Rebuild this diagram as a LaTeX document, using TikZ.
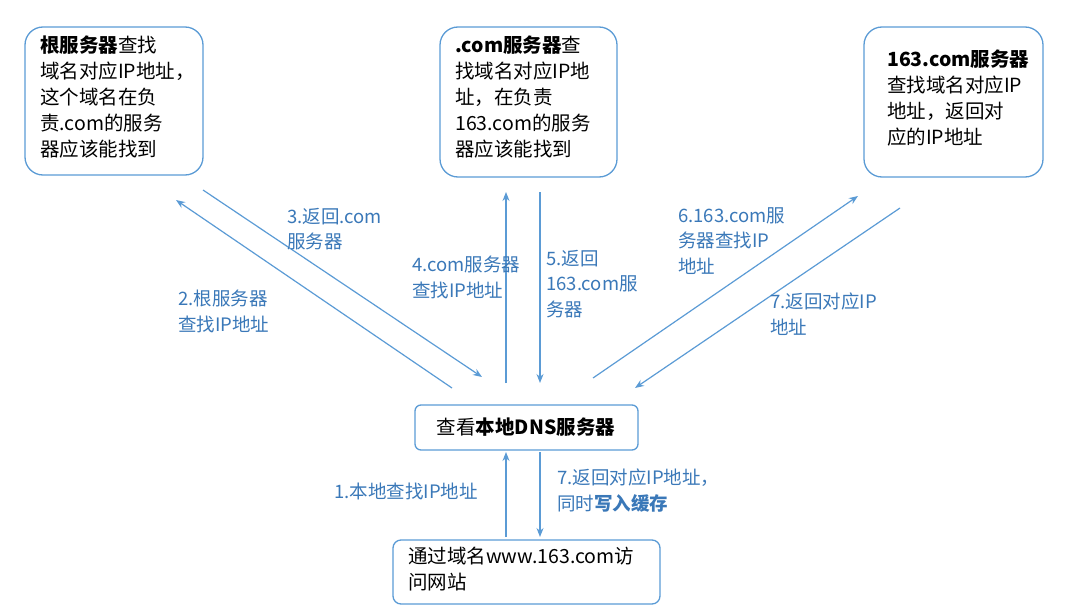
\documentclass[tikz,border=0pt]{standalone}
\usepackage{fontspec}
\setmainfont{Noto Sans CJK SC}
\usetikzlibrary{arrows.meta}
\definecolor{ln}{HTML}{5B9BD5}
\definecolor{lb}{HTML}{3A78B8}
\tikzset{
 box/.style={draw=ln,line width=1.3pt,rounded corners=18pt},
 tx/.style={anchor=north west,align=left,font=\fontsize{19.5}{26}\selectfont,inner sep=0pt},
 lab/.style={anchor=north west,align=left,text=lb,font=\fontsize{18.5}{25.5}\selectfont,inner sep=0pt},
 arr/.style={draw=ln,line width=1.2pt,-{Stealth[length=9pt,width=7pt]}}
}
\begin{document}
\begin{tikzpicture}[x=1pt,y=-1pt]
\useasboundingbox (0,0) rectangle (1073,610);
\draw[box] (25,27) rectangle (203,175);
\draw[box] (440,27) rectangle (617,177);
\draw[box] (864,27) rectangle (1043,177);
\draw[box,rounded corners=6pt] (415,405) rectangle (638,450);
\draw[box,rounded corners=8pt] (393,540) rectangle (660,604);
\node[tx] (t1) at (40,36) {\textbf{根服务器}查找\\域名对应IP地址，\\这个域名在负\\责.com的服务\\器应该能找到};
\node[tx] (t2) at (455,36) {\textbf{.com服务器}查\\找域名对应IP地\\址，在负责\\163.com的服务\\器应该能找到};
\node[tx] (t3) at (887,50) {\textbf{163.com服务器}\\查找域名对应IP\\地址，返回对\\应的IP地址};
\node[tx,anchor=center] (t4) at (526,427) {查看\textbf{本地DNS服务器}};
\node[tx] (t5) at (408,547) {通过域名www.163.com访\\问网站};
\coordinate (a2s) at (452,388); \coordinate (a2e) at (176,200);
\coordinate (a3s) at (203,190); \coordinate (a3e) at (482,377);
\coordinate (a4s) at (506,383); \coordinate (a4e) at (506,192);
\coordinate (a5s) at (540,192); \coordinate (a5e) at (540,383);
\coordinate (a6s) at (593,378); \coordinate (a6e) at (858,196);
\coordinate (a7s) at (900,208); \coordinate (a7e) at (635,388);
\coordinate (a1s) at (506,537); \coordinate (a1e) at (506,452);
\coordinate (a8s) at (540,452); \coordinate (a8e) at (540,537);
\foreach \n in {2,...,8,1} \draw[arr] (a\n s) -- (a\n e);
\node[lab] (l3) at (287,208) {3.返回.com\\服务器};
\node[lab] (l2) at (178,290) {2.根服务器\\查找IP地址};
\node[lab] (l4) at (412,256) {4.com服务器\\查找IP地址};
\node[lab] (l5) at (546,250) {5.返回\\163.com服\\务器};
\node[lab] (l6) at (678,207) {6.163.com服\\务器查找IP\\地址};
\node[lab] (l7) at (770,293) {7.返回对应IP\\地址};
\node[lab] (l1) at (334,483) {1.本地查找IP地址};
\node[lab] (l8) at (557,469) {7.返回对应IP地址，\\同时\textbf{写入缓存}};
\end{tikzpicture}
\end{document}
